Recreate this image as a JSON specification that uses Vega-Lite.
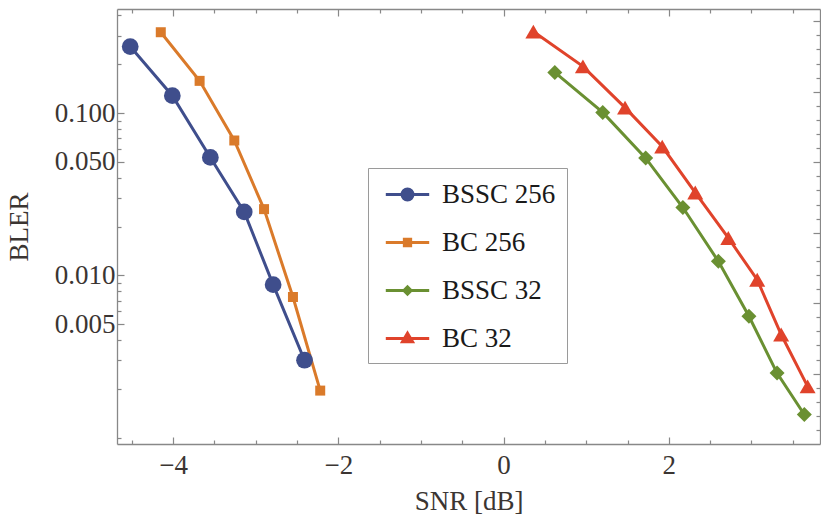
{
  "$schema": "https://vega.github.io/schema/vega-lite/v6.json",
  "width": 703,
  "height": 435,
  "autosize": {"type": "none"},
  "padding": {"left": 117, "top": 9, "right": 1, "bottom": 76},
  "background": "white",
  "config": {
    "font": "Liberation Serif",
    "view": {"stroke": null},
    "axis": {
      "domainColor": "#888888",
      "tickColor": "#888888",
      "domainWidth": 1.3,
      "tickWidth": 1.2,
      "labelFont": "Liberation Serif",
      "labelFontSize": 27,
      "labelColor": "#3b3532",
      "titleFont": "Liberation Serif",
      "titleFontSize": 27,
      "titleFontWeight": "normal",
      "titleColor": "#3b3532",
      "grid": false,
      "labelFlush": false,
      "labelOverlap": false
    }
  },
  "data": {
    "values": [
      {"series": "BSSC 256", "snr": -4.52, "bler": 0.257},
      {"series": "BSSC 256", "snr": -4.01, "bler": 0.128},
      {"series": "BSSC 256", "snr": -3.55, "bler": 0.0533},
      {"series": "BSSC 256", "snr": -3.14, "bler": 0.0246},
      {"series": "BSSC 256", "snr": -2.79, "bler": 0.00877},
      {"series": "BSSC 256", "snr": -2.41, "bler": 0.0030},
      {"series": "BC 256", "snr": -4.15, "bler": 0.315},
      {"series": "BC 256", "snr": -3.68, "bler": 0.158},
      {"series": "BC 256", "snr": -3.26, "bler": 0.0678},
      {"series": "BC 256", "snr": -2.90, "bler": 0.0256},
      {"series": "BC 256", "snr": -2.55, "bler": 0.00736},
      {"series": "BC 256", "snr": -2.22, "bler": 0.00195},
      {"series": "BSSC 32", "snr": 0.62, "bler": 0.178},
      {"series": "BSSC 32", "snr": 1.20, "bler": 0.101},
      {"series": "BSSC 32", "snr": 1.72, "bler": 0.0528},
      {"series": "BSSC 32", "snr": 2.17, "bler": 0.0262},
      {"series": "BSSC 32", "snr": 2.60, "bler": 0.0122},
      {"series": "BSSC 32", "snr": 2.97, "bler": 0.0056},
      {"series": "BSSC 32", "snr": 3.31, "bler": 0.0025},
      {"series": "BSSC 32", "snr": 3.64, "bler": 0.00139},
      {"series": "BC 32", "snr": 0.36, "bler": 0.318},
      {"series": "BC 32", "snr": 0.96, "bler": 0.194},
      {"series": "BC 32", "snr": 1.47, "bler": 0.108},
      {"series": "BC 32", "snr": 1.92, "bler": 0.0622},
      {"series": "BC 32", "snr": 2.32, "bler": 0.0324},
      {"series": "BC 32", "snr": 2.72, "bler": 0.017},
      {"series": "BC 32", "snr": 3.07, "bler": 0.0094},
      {"series": "BC 32", "snr": 3.36, "bler": 0.00432},
      {"series": "BC 32", "snr": 3.68, "bler": 0.00207}
    ]
  },
  "layer": [
    {
      "mark": {"type": "line", "strokeWidth": 3},
      "encoding": {
        "x": {
          "field": "snr", "type": "quantitative",
          "scale": {"domain": [-4.68, 3.83], "nice": false, "zero": false},
          "axis": {
            "orient": "bottom",
            "values": [-4.5, -4, -3.5, -3, -2.5, -2, -1.5, -1, -0.5, 0, 0.5, 1, 1.5, 2, 2.5, 3, 3.5],
            "labelExpr": "datum.value % 2 == 0 ? format(datum.value, 'd') : ''",
            "tickSize": {"condition": {"test": "datum.value % 2 == 0", "value": -7}, "value": -4},
            "labelPadding": 15,
            "title": "SNR [dB]",
            "titleBaseline": "middle",
            "titleY": 57
          }
        },
        "y": {
          "field": "bler", "type": "quantitative",
          "scale": {"type": "log", "domain": [0.000914, 0.438], "nice": false},
          "axis": {
            "orient": "left",
            "values": [0.001, 0.002, 0.003, 0.004, 0.005, 0.006, 0.007, 0.008, 0.009, 0.01, 0.02, 0.03, 0.04, 0.05, 0.06, 0.07, 0.08, 0.09, 0.1, 0.2, 0.3, 0.4],
            "labelExpr": "(datum.value == 0.1 || datum.value == 0.05 || datum.value == 0.01 || datum.value == 0.005) ? format(datum.value, '.3f') : ''",
            "tickSize": {"condition": {"test": "datum.value == 0.1 || datum.value == 0.05 || datum.value == 0.01 || datum.value == 0.005", "value": -7}, "value": -4},
            "labelPadding": 9,
            "title": "BLER",
            "titleX": -84
          }
        },
        "color": {
          "field": "series", "type": "nominal",
          "scale": {"range": ["#da7a2a", "#e0432b", "#3f4e8c", "#6a9032"]},
          "legend": null
        }
      }
    },
    {
      "transform": [{"filter": "datum.series == 'BSSC 256'"}],
      "mark": {"type": "point", "filled": true, "opacity": 1, "strokeWidth": 0, "shape": "circle", "size": 280},
      "encoding": {
        "x": {"field": "snr", "type": "quantitative", "axis": null},
        "y": {"field": "bler", "type": "quantitative", "axis": null},
        "color": {"field": "series", "type": "nominal", "legend": null}
      }
    },
    {
      "transform": [{"filter": "datum.series == 'BC 256'"}],
      "mark": {"type": "point", "filled": true, "opacity": 1, "strokeWidth": 0, "shape": "square", "size": 100},
      "encoding": {
        "x": {"field": "snr", "type": "quantitative", "axis": null},
        "y": {"field": "bler", "type": "quantitative", "axis": null},
        "color": {"field": "series", "type": "nominal", "legend": null}
      }
    },
    {
      "transform": [{"filter": "datum.series == 'BSSC 32'"}],
      "mark": {"type": "point", "filled": true, "opacity": 1, "strokeWidth": 0, "shape": "diamond", "size": 225},
      "encoding": {
        "x": {"field": "snr", "type": "quantitative", "axis": null},
        "y": {"field": "bler", "type": "quantitative", "axis": null},
        "color": {"field": "series", "type": "nominal", "legend": null}
      }
    },
    {
      "transform": [{"filter": "datum.series == 'BC 32'"}],
      "mark": {"type": "point", "filled": true, "opacity": 1, "strokeWidth": 0, "shape": "triangle-up", "size": 256},
      "encoding": {
        "x": {"field": "snr", "type": "quantitative", "axis": null},
        "y": {"field": "bler", "type": "quantitative", "axis": null},
        "color": {"field": "series", "type": "nominal", "legend": null}
      }
    },
    {
      "mark": {"type": "line", "opacity": 0},
      "encoding": {
        "x": {
          "field": "snr", "type": "quantitative",
          "axis": {
            "orient": "top",
            "values": [-4.5, -4, -3.5, -3, -2.5, -2, -1.5, -1, -0.5, 0, 0.5, 1, 1.5, 2, 2.5, 3, 3.5],
            "labels": false,
            "title": null,
            "tickSize": {"condition": {"test": "datum.value % 2 == 0", "value": -7}, "value": -4}
          }
        },
        "y": {
          "field": "bler", "type": "quantitative",
          "axis": {
            "orient": "right",
            "values": [0.367879, 0.301194, 0.246597, 0.201897, 0.165299, 0.135335, 0.110803, 0.090718, 0.074274, 0.06081, 0.049787, 0.040762, 0.033373, 0.027324, 0.022371, 0.018316, 0.014996, 0.012277, 0.010052, 0.00823, 0.006738, 0.005517, 0.004517, 0.003698, 0.003028, 0.002479, 0.002029, 0.001662, 0.00136, 0.001114],
            "labels": false,
            "title": null,
            "tickSize": {"condition": {"test": "abs(log(datum.value) - round(log(datum.value))) < 0.01", "value": -7}, "value": -4}
          }
        },
        "detail": {"field": "series", "type": "nominal"}
      }
    },
    {
      "transform": [{"filter": "false"}],
      "mark": {"type": "point", "filled": true, "opacity": 1},
      "encoding": {
        "x": {"field": "snr", "type": "quantitative", "axis": null},
        "y": {"field": "bler", "type": "quantitative", "axis": null},
        "fill": {
          "field": "series", "type": "nominal",
          "scale": {"domain": ["BSSC 256", "BC 256", "BSSC 32", "BC 32"], "range": ["#3f4e8c", "#da7a2a", "#6a9032", "#e0432b"]},
          "legend": {
            "orient": "none",
            "legendX": 251,
            "legendY": 159,
            "title": null,
            "direction": "vertical",
            "padding": 11,
            "strokeColor": "#9a9a9a",
            "fillColor": "white",
            "labelFont": "Liberation Serif",
            "labelFontSize": 27,
            "labelColor": "#1a1a1a",
            "symbolSize": 784,
            "symbolStrokeWidth": 3,
            "symbolOpacity": 1,
            "symbolOffset": 13,
            "labelOffset": 19,
            "rowPadding": 19
          }
        },
        "stroke": {
          "field": "series", "type": "nominal",
          "scale": {"domain": ["BSSC 256", "BC 256", "BSSC 32", "BC 32"], "range": ["#3f4e8c", "#da7a2a", "#6a9032", "#e0432b"]}
        },
        "shape": {
          "field": "series", "type": "nominal",
          "scale": {"domain": ["BSSC 256", "BC 256", "BSSC 32", "BC 32"], "range": [
            "M-1.55,0H1.55M-0.39,0A0.39,0.39 0 1,0 0.39,0A0.39,0.39 0 1,0 -0.39,0Z",
            "M-1.55,0H1.55M-0.225,-0.225H0.225V0.225H-0.225Z",
            "M-1.55,0H1.55M-0.26,0L0,-0.26L0.26,0L0,0.26Z",
            "M-1.55,0H1.55M0,-0.38L0.36,0.24L-0.36,0.24Z"
          ]}
        }
      }
    }
  ],
  "resolve": {"axis": {"x": "independent", "y": "independent"}}
}
